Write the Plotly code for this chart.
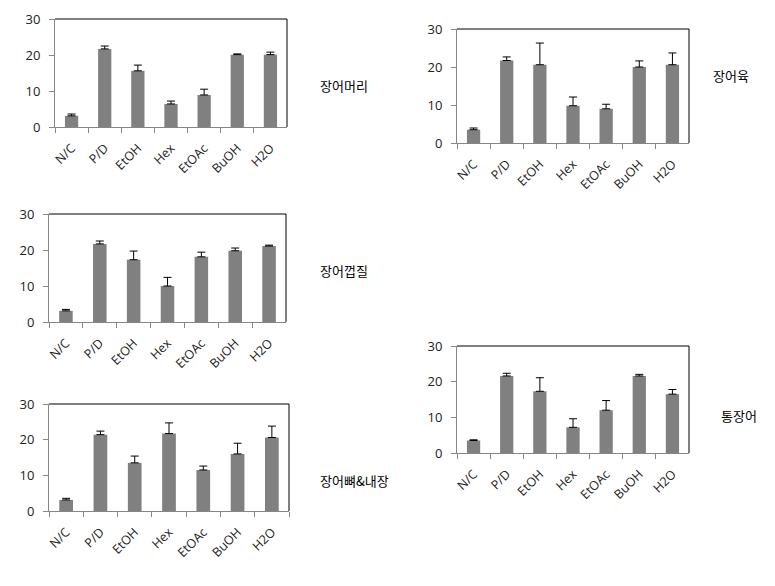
import plotly.graph_objects as go

categories = ["N/C", "P/D", "EtOH", "Hex", "EtOAc", "BuOH", "H2O"]

# 장어머리
head_vals = [3.1, 21.7, 15.6, 6.4, 8.9, 20.1, 20.1]
head_err = [0.5, 0.8, 1.6, 0.8, 1.6, 0.2, 0.7]
# 장어육
meat_vals = [3.5, 21.7, 20.6, 9.8, 9.0, 20.0, 20.6]
meat_err = [0.45, 0.95, 5.7, 2.3, 1.2, 1.6, 3.1]
# 장어껍질
skin_vals = [3.1, 21.7, 17.3, 10.0, 18.1, 19.8, 21.1]
skin_err = [0.4, 0.8, 2.4, 2.4, 1.3, 0.75, 0.25]
# 장어뼈&내장
bone_vals = [3.1, 21.4, 13.5, 21.7, 11.5, 16.0, 20.6]
bone_err = [0.45, 1.0, 1.9, 3.0, 1.1, 3.0, 3.2]
# 통장어
whole_vals = [3.5, 21.6, 17.3, 7.2, 12.0, 21.6, 16.5]
whole_err = [0.2, 0.75, 3.8, 2.4, 2.7, 0.45, 1.3]

y_ticks = [0, 10, 20, 30]

panels = [
    ("장어머리", head_vals, head_err),
    ("장어육", meat_vals, meat_err),
    ("장어껍질", skin_vals, skin_err),
    ("장어뼈&내장", bone_vals, bone_err),
    ("통장어", whole_vals, whole_err),
]

W, H = 775, 586
# pixel boxes: (left, right, top, bottom) of plot area; label position
boxes = [
    (55, 287, 19, 127, 318, 86),
    (457, 689, 29, 143, 711, 76),
    (49, 286, 214, 322, 318, 270),
    (49, 289, 404, 511, 318, 480),
    (457, 689, 346, 453, 719, 415),
]

fig = go.Figure()
x_font = dict(family="Open Sans, DejaVu Sans, sans-serif", size=12.5, color="#222222")
y_font = dict(family="Open Sans, DejaVu Sans, sans-serif", size=13, color="#222222")
label_font = dict(family="Noto Sans CJK KR", size=13, color="#000000")

for i, ((name, vals, errs), (l, r, t, b, lx, ly)) in enumerate(zip(panels, boxes)):
    idx = "" if i == 0 else str(i + 1)
    xa, ya = "x" + idx, "y" + idx
    fig.add_trace(go.Bar(
        x=categories, y=vals, xaxis=xa, yaxis=ya,
        marker=dict(color="#808080", line=dict(width=0)),
        width=0.4,
        error_y=dict(type="data", array=errs, arrayminus=[0] * len(errs),
                     symmetric=False, color="#000000", thickness=1, width=4),
        showlegend=False, name=name,
    ))
    fig.layout["xaxis" + idx] = dict(
        domain=[l / W, r / W], anchor=ya, type="category",
        tickson="boundaries", ticks="outside", ticklen=5, tickcolor="#868686",
        showline=True, linecolor="#868686", linewidth=1,
        tickangle=-45, tickfont=x_font, ticklabelstandoff=8,
        showgrid=False, zeroline=False, fixedrange=True, automargin=False,
    )
    fig.layout["yaxis" + idx] = dict(
        domain=[1 - b / H, 1 - t / H], anchor=xa, range=[0, 30],
        tickvals=y_ticks, ticktext=[str(v) for v in y_ticks],
        ticks="outside", ticklen=5, tickcolor="#868686",
        showline=True, linecolor="#868686", linewidth=1,
        tickfont=y_font, ticklabelstandoff=6,
        showgrid=False, zeroline=False, fixedrange=True, automargin=False,
    )
    # top and right frame lines
    fig.add_shape(type="line", xref=xa + " domain", yref=ya + " domain",
                  x0=0, x1=1, y0=1, y1=1, line=dict(color="#000000", width=1))
    fig.add_shape(type="line", xref=xa + " domain", yref=ya + " domain",
                  x0=1, x1=1, y0=0, y1=1, line=dict(color="#000000", width=1))
    fig.add_annotation(text=name, xref="paper", yref="paper",
                       x=lx / W, y=1 - ly / H, xanchor="left", yanchor="middle",
                       showarrow=False, font=label_font)

fig.update_layout(
    width=W, height=H, margin=dict(l=0, r=0, t=0, b=0, autoexpand=False),
    paper_bgcolor="white", plot_bgcolor="white", bargap=0.6,
)

fig.write_html(
    "out.html",
    config={"displayModeBar": False},
    post_script="document.body.style.margin='0';document.body.style.overflow='hidden';",
)
